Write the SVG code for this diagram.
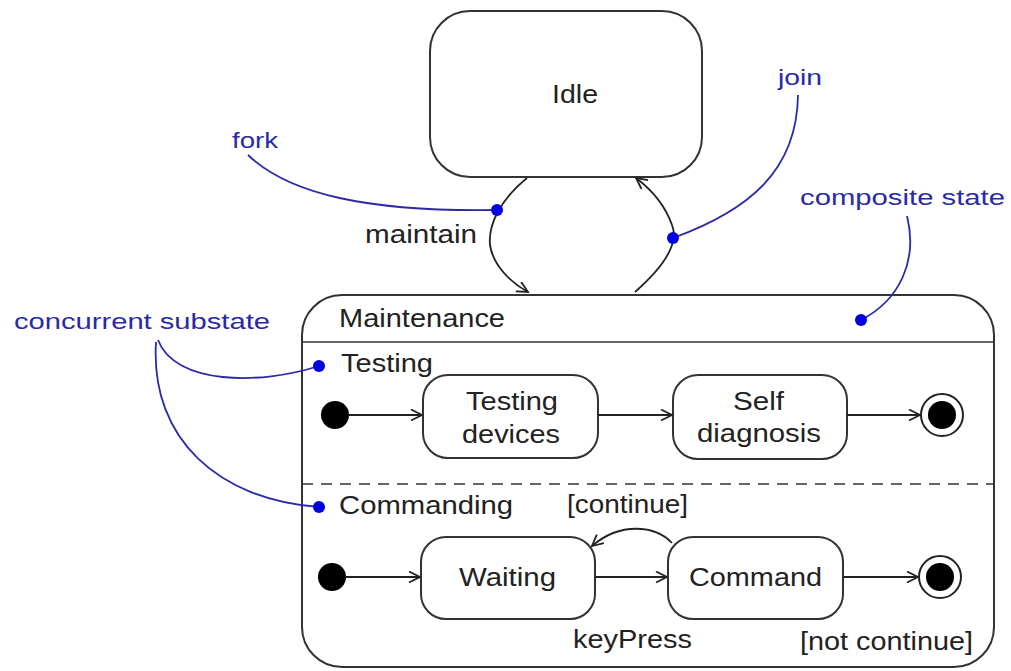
<svg xmlns="http://www.w3.org/2000/svg" width="1011" height="671" viewBox="0 0 1011 671">
<defs>
<marker id="arr" markerWidth="14" markerHeight="14" refX="12" refY="6" orient="auto" markerUnits="userSpaceOnUse">
<path d="M1,0.5 L12,6 L1,11.5" fill="none" stroke="#222" stroke-width="1.8"/>
</marker>
<style>
.st{fill:#fff;stroke:#333;stroke-width:2}
.t{font-family:"Liberation Sans",Arial,sans-serif;fill:#222;font-size:25px}
.b{font-family:"Liberation Sans",Arial,sans-serif;fill:#2a2aa8;font-size:22px}
.c{fill:none;stroke:#222;stroke-width:1.8}
.bl{fill:none;stroke:#2a2aa8;stroke-width:1.8}
.dot{fill:#0000e0}
</style>
</defs>
<rect width="1011" height="671" fill="#fff"/>

<g id="idle">
<rect class="st" x="430" y="11" width="272" height="166" rx="40"/>
<text class="t" x="552" y="103" font-size="27" textLength="46" lengthAdjust="spacingAndGlyphs">Idle</text>
</g>

<g id="maintenance">
<rect class="st" x="302" y="295" width="692" height="372" rx="40"/>
<line x1="302" y1="342" x2="994" y2="342" stroke="#333" stroke-width="1.5"/>
<line x1="302" y1="484" x2="994" y2="484" stroke="#333" stroke-width="1.5" stroke-dasharray="11,8"/>
<text class="t" x="339" y="327" textLength="166" lengthAdjust="spacingAndGlyphs">Maintenance</text>
<text class="t" x="341" y="372" textLength="92" lengthAdjust="spacingAndGlyphs">Testing</text>
<text class="t" x="339" y="514" textLength="174" lengthAdjust="spacingAndGlyphs">Commanding</text>
</g>

<g id="init1"><circle cx="335" cy="415" r="14" fill="#000"/></g>
<g id="testingDevices">
<rect class="st" x="423" y="375" width="175" height="83" rx="25"/>
<text class="t" x="466" y="410" textLength="92" lengthAdjust="spacingAndGlyphs">Testing</text>
<text class="t" x="462" y="443" textLength="98" lengthAdjust="spacingAndGlyphs">devices</text>
</g>
<g id="selfDiagnosis">
<rect class="st" x="673" y="375" width="174" height="84" rx="25"/>
<text class="t" x="733" y="410" textLength="51" lengthAdjust="spacingAndGlyphs">Self</text>
<text class="t" x="697" y="442" textLength="124" lengthAdjust="spacingAndGlyphs">diagnosis</text>
</g>
<g id="final1">
<circle cx="942" cy="415" r="21" fill="#fff" stroke="#222" stroke-width="2"/>
<circle cx="942" cy="415" r="14" fill="#000"/>
</g>

<g id="init2"><circle cx="332" cy="577" r="14" fill="#000"/></g>
<g id="waiting">
<rect class="st" x="421" y="537" width="174" height="82" rx="25"/>
<text class="t" x="459" y="586" textLength="97" lengthAdjust="spacingAndGlyphs">Waiting</text>
</g>
<g id="command">
<rect class="st" x="668" y="537" width="175" height="82" rx="25"/>
<text class="t" x="689" y="586" textLength="133" lengthAdjust="spacingAndGlyphs">Command</text>
</g>
<g id="final2">
<circle cx="940" cy="577" r="21" fill="#fff" stroke="#222" stroke-width="2"/>
<circle cx="940" cy="577" r="14" fill="#000"/>
</g>

<g id="connectors">
<path class="c" d="M527,178 C500,200 488,225 490,245 C493,265 510,282 528,292" marker-end="url(#arr)"/>
<path class="c" d="M635,292 C660,270 680,245 672,225 C665,205 652,190 636,178" marker-end="url(#arr)"/>
<line class="c" x1="349" y1="415" x2="422" y2="415" marker-end="url(#arr)"/>
<line class="c" x1="598" y1="415" x2="672" y2="415" marker-end="url(#arr)"/>
<line class="c" x1="847" y1="415" x2="920" y2="415" marker-end="url(#arr)"/>
<line class="c" x1="346" y1="577" x2="420" y2="577" marker-end="url(#arr)"/>
<line class="c" x1="595" y1="577" x2="667" y2="577" marker-end="url(#arr)"/>
<line class="c" x1="843" y1="577" x2="918" y2="577" marker-end="url(#arr)"/>
<path class="c" d="M672,543 C655,525 620,522 592,546" marker-end="url(#arr)"/>
<text class="t" x="365" y="243" font-size="22" textLength="112" lengthAdjust="spacingAndGlyphs">maintain</text>
<text class="t" x="567" y="513" font-size="23" textLength="121" lengthAdjust="spacingAndGlyphs">[continue]</text>
<text class="t" x="573" y="648" font-size="23" textLength="119" lengthAdjust="spacingAndGlyphs">keyPress</text>
<text class="t" x="800" y="650" font-size="23" textLength="173" lengthAdjust="spacingAndGlyphs">[not continue]</text>
</g>

<g id="annotations">
<path class="bl" d="M248,155 C290,195 370,212 497,210"/>
<circle class="dot" cx="497" cy="210" r="6"/>
<text class="b" x="232" y="148" textLength="46" lengthAdjust="spacingAndGlyphs">fork</text>
<path class="bl" d="M798,95 C797,170 750,210 673,238"/>
<circle class="dot" cx="673" cy="238" r="6"/>
<text class="b" x="778" y="85" textLength="44" lengthAdjust="spacingAndGlyphs">join</text>
<path class="bl" d="M907,216 C918,260 900,300 861,320"/>
<circle class="dot" cx="861" cy="320" r="6"/>
<text class="b" x="800" y="205" textLength="205" lengthAdjust="spacingAndGlyphs">composite state</text>
<path class="bl" d="M158,340 C175,385 260,385 319,366"/>
<path class="bl" d="M156,342 C150,440 220,500 319,507"/>
<circle class="dot" cx="319" cy="366" r="6"/>
<circle class="dot" cx="319" cy="507" r="6"/>
<text class="b" x="14" y="329" textLength="256" lengthAdjust="spacingAndGlyphs">concurrent substate</text>
</g>
</svg>
